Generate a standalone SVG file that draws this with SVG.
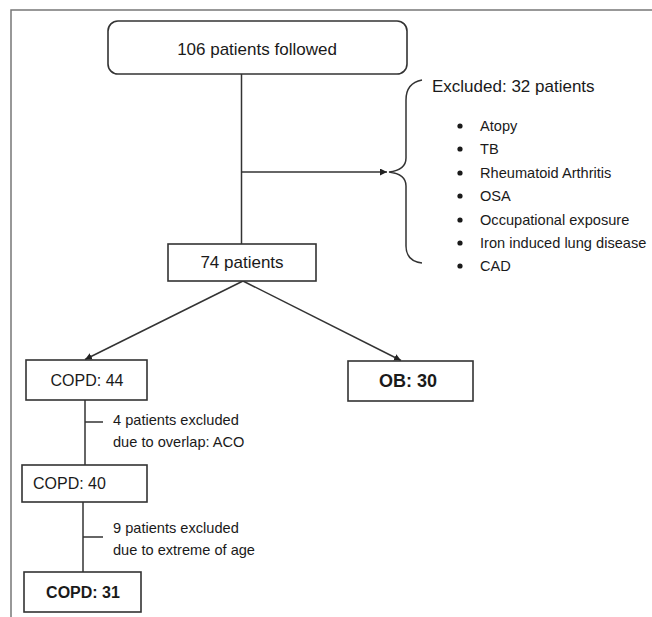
<svg xmlns="http://www.w3.org/2000/svg" width="652" height="617" viewBox="0 0 652 617">
<defs>
<marker id="arr" viewBox="0 0 10 10" refX="10" refY="5" markerWidth="7" markerHeight="7" markerUnits="userSpaceOnUse" orient="auto">
<path d="M0,0 L10,5 L0,10 Z" fill="#222"/>
</marker>
<style>
.box{fill:#fff;stroke:#333;stroke-width:1.6}
.ln{fill:none;stroke:#333;stroke-width:1.5}
.t{font-family:"Liberation Sans",Arial,sans-serif;fill:#1a1a1a}
.h{font-size:17px}
.s{font-size:14.6px}
.b{font-weight:bold}
</style>
</defs>
<rect width="652" height="617" fill="#fff"/>
<path d="M11,617 L11,10 L652,10" fill="none" stroke="#777" stroke-width="1.5"/>

<g id="connectors">
<path class="ln" d="M241.5,74 L241.5,244"/>
<path class="ln" d="M241.5,172 L387,172" marker-end="url(#arr)"/>
<path class="ln" d="M243,281 L85,359.5" marker-end="url(#arr)"/>
<path class="ln" d="M243,281 L401,360.5" marker-end="url(#arr)"/>
<path class="ln" d="M85,400 L85,465"/>
<path class="ln" d="M85,422 L103,422"/>
<path class="ln" d="M83,502 L83,572"/>
<path class="ln" d="M83,537 L103,537"/>
<path class="ln" d="M422,80 Q406,83 406,100 L406,158 Q406,170 389,172 Q406,174 406,186 L406,246 Q406,261 422,263"/>
</g>

<g id="n106">
<rect class="box" x="108" y="21" width="299" height="53" rx="10"/>
<text class="t h" x="257" y="55" text-anchor="middle">106 patients followed</text>
</g>

<g id="excluded">
<text class="t h" x="432" y="92">Excluded: 32 patients</text>
<g fill="#1a1a1a">
<circle cx="460" cy="126" r="2.6"/>
<circle cx="460" cy="149" r="2.6"/>
<circle cx="460" cy="173" r="2.6"/>
<circle cx="460" cy="196" r="2.6"/>
<circle cx="460" cy="220" r="2.6"/>
<circle cx="460" cy="243" r="2.6"/>
<circle cx="460" cy="266" r="2.6"/>
</g>
<text class="t s" x="480" y="131">Atopy</text>
<text class="t s" x="480" y="154">TB</text>
<text class="t s" x="480" y="178">Rheumatoid Arthritis</text>
<text class="t s" x="480" y="201">OSA</text>
<text class="t s" x="480" y="225">Occupational exposure</text>
<text class="t s" x="480" y="248">Iron induced lung disease</text>
<text class="t s" x="480" y="271">CAD</text>
</g>

<g id="n74">
<rect class="box" x="168" y="244" width="148" height="37"/>
<text class="t h" x="242" y="268" text-anchor="middle">74 patients</text>
</g>

<g id="copd44">
<rect class="box" x="26" y="360" width="121" height="40"/>
<text class="t" font-size="16" x="87" y="386" text-anchor="middle">COPD: 44</text>
</g>

<g id="ob30">
<rect class="box" x="348" y="361" width="125" height="40"/>
<text class="t b" font-size="18" x="408" y="387" text-anchor="middle">OB: 30</text>
</g>

<g id="note1">
<text class="t s" x="113" y="425">4 patients excluded</text>
<text class="t s" x="113" y="447">due to overlap: ACO</text>
</g>

<g id="copd40">
<rect class="box" x="22" y="465" width="125" height="37"/>
<text class="t" font-size="16" x="33" y="489">COPD: 40</text>
</g>

<g id="note2">
<text class="t s" x="113" y="533">9 patients excluded</text>
<text class="t s" x="113" y="555">due to extreme of age</text>
</g>

<g id="copd31">
<rect class="box" x="24" y="572" width="117" height="40"/>
<text class="t b" font-size="16" x="83" y="598" text-anchor="middle">COPD: 31</text>
</g>
</svg>
